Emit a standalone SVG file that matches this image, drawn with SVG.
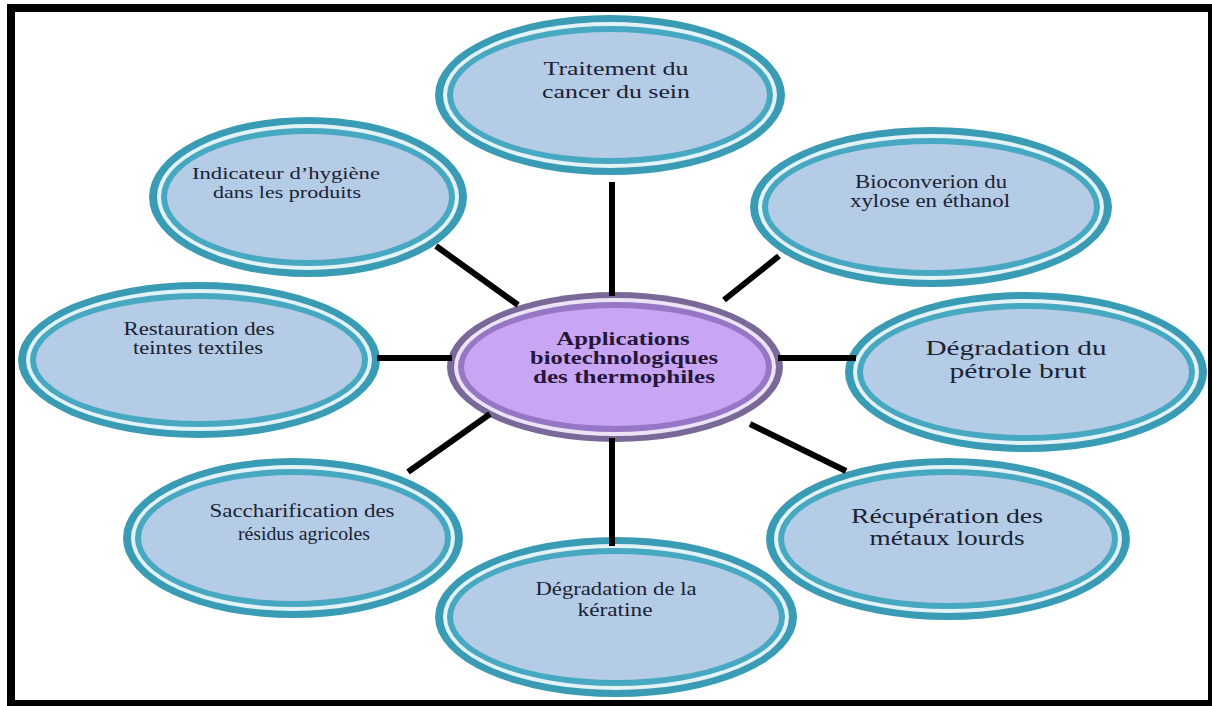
<svg xmlns="http://www.w3.org/2000/svg" width="1212" height="706" viewBox="0 0 1212 706">
<style>
.o{fill:#3a9bb5}
.w{fill:#e3f2f6}
.i{fill:#47a8c1}
.f{fill:#b5cce6}
.po{fill:#7a6898}
.pw{fill:#ece4f6}
.pi{fill:#9677c6}
.pf{fill:#c8a6f3}
.t{font-family:"Liberation Serif","Times New Roman",serif;fill:#1b2233;text-anchor:middle}
.c{font-family:"Liberation Serif","Times New Roman",serif;fill:#26163a;text-anchor:middle;font-weight:bold;font-size:18px}
.ln{stroke:#000;stroke-width:6;fill:none}
</style>
<rect x="0" y="0" width="1212" height="706" fill="#fff"/>

<g id="node-indicateur">
<ellipse class="o" cx="308" cy="197" rx="159" ry="80"/>
<ellipse class="w" cx="308" cy="197" rx="151" ry="73"/>
<ellipse class="i" cx="308" cy="197" rx="147" ry="69"/>
<ellipse class="f" cx="308" cy="197" rx="141" ry="63"/>
<text class="t" x="286" y="179" font-size="17" textLength="188" lengthAdjust="spacingAndGlyphs">Indicateur d’hygiène</text>
<text class="t" x="287" y="198" font-size="17" textLength="148" lengthAdjust="spacingAndGlyphs">dans les produits</text>
</g>

<g id="node-restauration">
<ellipse class="o" cx="199" cy="360" rx="181" ry="78"/>
<ellipse class="w" cx="199" cy="360" rx="173" ry="71"/>
<ellipse class="i" cx="199" cy="360" rx="169" ry="67"/>
<ellipse class="f" cx="199" cy="360" rx="163" ry="61"/>
<text class="t" x="199" y="335" font-size="18" textLength="151" lengthAdjust="spacingAndGlyphs">Restauration des</text>
<text class="t" x="198" y="354" font-size="18" textLength="130" lengthAdjust="spacingAndGlyphs">teintes textiles</text>
</g>

<g id="node-traitement">
<ellipse class="o" cx="610" cy="95" rx="175" ry="80"/>
<ellipse class="w" cx="610" cy="95" rx="167" ry="73"/>
<ellipse class="i" cx="610" cy="95" rx="163" ry="69"/>
<ellipse class="f" cx="610" cy="95" rx="157" ry="63"/>
<text class="t" x="616" y="75" font-size="18" textLength="145" lengthAdjust="spacingAndGlyphs">Traitement du</text>
<text class="t" x="616" y="98" font-size="18" textLength="148" lengthAdjust="spacingAndGlyphs">cancer du sein</text>
</g>

<g id="node-bioconversion">
<ellipse class="o" cx="931" cy="207" rx="181" ry="80"/>
<ellipse class="w" cx="931" cy="207" rx="173" ry="73"/>
<ellipse class="i" cx="931" cy="207" rx="169" ry="69"/>
<ellipse class="f" cx="931" cy="207" rx="163" ry="63"/>
<text class="t" x="931" y="188" font-size="18" textLength="152" lengthAdjust="spacingAndGlyphs">Bioconverion du</text>
<text class="t" x="930" y="207" font-size="18" textLength="160" lengthAdjust="spacingAndGlyphs">xylose en éthanol</text>
</g>

<g id="node-petrole">
<ellipse class="o" cx="1026" cy="372" rx="181" ry="80"/>
<ellipse class="w" cx="1026" cy="372" rx="173" ry="73"/>
<ellipse class="i" cx="1026" cy="372" rx="169" ry="69"/>
<ellipse class="f" cx="1026" cy="372" rx="163" ry="63"/>
<text class="t" x="1016" y="355" font-size="22" textLength="181" lengthAdjust="spacingAndGlyphs">Dégradation du</text>
<text class="t" x="1018" y="378" font-size="22" textLength="137" lengthAdjust="spacingAndGlyphs">pétrole brut</text>
</g>

<g id="node-metaux">
<ellipse class="o" cx="948" cy="539" rx="182" ry="81"/>
<ellipse class="w" cx="948" cy="539" rx="174" ry="74"/>
<ellipse class="i" cx="948" cy="539" rx="170" ry="70"/>
<ellipse class="f" cx="948" cy="539" rx="164" ry="64"/>
<text class="t" x="947" y="523" font-size="21" textLength="192" lengthAdjust="spacingAndGlyphs">Récupération des</text>
<text class="t" x="947" y="545" font-size="21" textLength="155" lengthAdjust="spacingAndGlyphs">métaux lourds</text>
</g>

<g id="node-saccharification">
<ellipse class="o" cx="293" cy="538" rx="170" ry="80"/>
<ellipse class="w" cx="293" cy="538" rx="162" ry="73"/>
<ellipse class="i" cx="293" cy="538" rx="158" ry="69"/>
<ellipse class="f" cx="293" cy="538" rx="152" ry="63"/>
<text class="t" x="302" y="517" font-size="19" textLength="185" lengthAdjust="spacingAndGlyphs">Saccharification des</text>
<text class="t" x="304" y="540" font-size="19" textLength="132" lengthAdjust="spacingAndGlyphs">résidus agricoles</text>
</g>

<g id="node-keratine">
<ellipse class="o" cx="616" cy="617" rx="181" ry="80"/>
<ellipse class="w" cx="616" cy="617" rx="173" ry="73"/>
<ellipse class="i" cx="616" cy="617" rx="169" ry="69"/>
<ellipse class="f" cx="616" cy="617" rx="163" ry="63"/>
<text class="t" x="616" y="595" font-size="18" textLength="161" lengthAdjust="spacingAndGlyphs">Dégradation de la</text>
<text class="t" x="615" y="616" font-size="18" textLength="75" lengthAdjust="spacingAndGlyphs">kératine</text>
</g>

<g id="node-center">
<ellipse class="po" cx="615" cy="367" rx="168" ry="75"/>
<ellipse class="pw" cx="615" cy="367" rx="161" ry="69"/>
<ellipse class="pi" cx="615" cy="367" rx="157" ry="65"/>
<ellipse class="pf" cx="615" cy="367" rx="151" ry="59"/>
<text class="c" x="623" y="345" textLength="133" lengthAdjust="spacingAndGlyphs">Applications</text>
<text class="c" x="624" y="364" textLength="188" lengthAdjust="spacingAndGlyphs">biotechnologiques</text>
<text class="c" x="624" y="383" textLength="182" lengthAdjust="spacingAndGlyphs">des thermophiles</text>
</g>

<g id="connectors">
<line class="ln" x1="612" y1="182" x2="612" y2="296"/>
<line class="ln" x1="436" y1="246" x2="518" y2="305"/>
<line class="ln" x1="779" y1="256" x2="724" y2="300"/>
<line class="ln" x1="778" y1="358" x2="856" y2="358"/>
<line class="ln" x1="750" y1="424" x2="846" y2="471"/>
<line class="ln" x1="612" y1="438" x2="612" y2="546"/>
<line class="ln" x1="490" y1="414" x2="408" y2="472"/>
<line class="ln" x1="377" y1="358" x2="452" y2="358"/>
</g>

<rect x="11" y="8" width="1201" height="696" fill="none" stroke="#000" stroke-width="8"/>
</svg>
